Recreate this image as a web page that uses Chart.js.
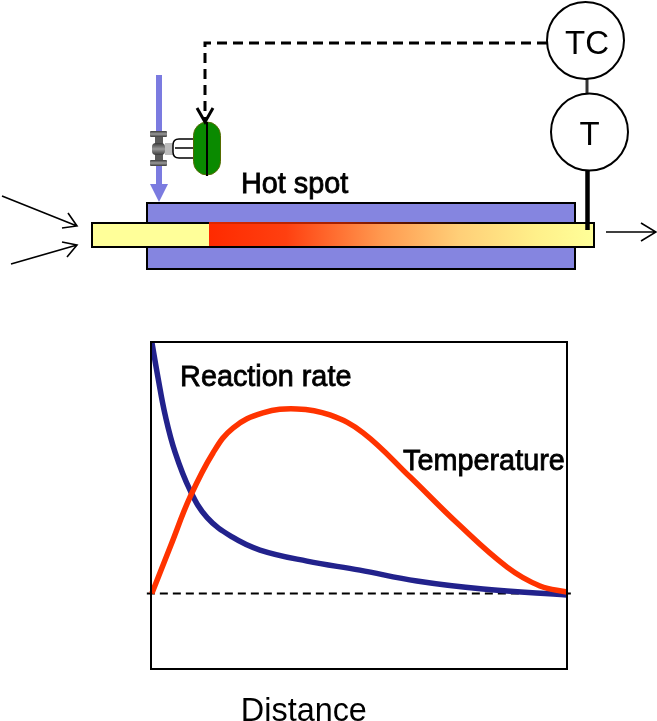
<!DOCTYPE html>
<html>
<head>
<meta charset="utf-8">
<title>Hot spot</title>
<script src="https://cdn.jsdelivr.net/npm/chart.js@4"></script>
<style>
  html, body { margin: 0; padding: 0; background: #fff; }
  #wrap { position: relative; width: 657px; height: 721px; overflow: hidden; }
  #plot, #scheme { position: absolute; left: 0; top: 0; }
  #scheme text { font-family: 'Liberation Sans', Arial, sans-serif; fill: #000; }
</style>
</head>
<body>
<div id="wrap">
  <canvas id="plot" width="657" height="721"></canvas>

  <!-- reactor schematic, not data -->
  <svg id="scheme" width="657" height="340" viewBox="0 0 657 340" xmlns="http://www.w3.org/2000/svg">
    <defs>
      <linearGradient id="hot" x1="0" x2="1" y1="0" y2="0">
        <stop offset="0" stop-color="#ff2a00"/>
        <stop offset="0.2" stop-color="#ff4010"/>
        <stop offset="0.45" stop-color="#ff9a50"/>
        <stop offset="0.65" stop-color="#ffcf78"/>
        <stop offset="0.85" stop-color="#fff08a"/>
        <stop offset="1" stop-color="#ffff99"/>
      </linearGradient>
      <linearGradient id="edge" gradientUnits="userSpaceOnUse" x1="209" x2="480" y1="0" y2="0">
        <stop offset="0" stop-color="#e02800"/>
        <stop offset="0.5" stop-color="#a02000"/>
        <stop offset="1" stop-color="#000"/>
      </linearGradient>
      <linearGradient id="steel" x1="0" x2="0" y1="0" y2="1">
        <stop offset="0" stop-color="#3a3a3a"/>
        <stop offset="0.5" stop-color="#9a9a9a"/>
        <stop offset="1" stop-color="#3a3a3a"/>
      </linearGradient>
    </defs>

    <!-- jacket and tube -->
    <rect x="147" y="203" width="428" height="66" fill="#8585e0" stroke="#000" stroke-width="2"/>
    <rect x="92" y="223" width="502" height="24" fill="#ffff99"/>
    <rect x="209" y="223" width="385" height="24" fill="url(#hot)"/>
    <rect x="92" y="223" width="502" height="24" fill="none" stroke="#000" stroke-width="2"/>
    <line x1="209" x2="480" y1="223" y2="223" stroke="url(#edge)" stroke-width="2"/>

    <!-- feed and outlet arrows -->
    <g fill="none" stroke="#000" stroke-width="1.6">
      <path d="M2 196 L77 226 M68 213 L77 226 L62 228"/>
      <path d="M11 264 L77 245 M62 242 L77 245 L67 257"/>
      <path d="M606 232 L656 232 M641 223 L656 232 L641 241"/>
    </g>

    <!-- coolant arrow -->
    <rect x="156" y="75" width="6" height="110" fill="#7b7be0"/>
    <path d="M150 184 L168 184 L159 202 Z" fill="#7b7be0"/>

    <!-- valve -->
    <rect x="165" y="143" width="8" height="12" fill="#bdbdbd"/>
    <rect x="155" y="136" width="8" height="24" fill="#5a5a5a"/>
    <rect x="150" y="131" width="17" height="6" rx="1" fill="url(#steel)"/>
    <rect x="150" y="160" width="17" height="6" rx="1" fill="url(#steel)"/>
    <rect x="152" y="143" width="13" height="12" rx="4" fill="url(#steel)"/>
    <path d="M193 139 L179 139 Q173 139 173 145 L173 152 Q173 158 179 158 L193 158 M175 148 L193 148" fill="#fff" stroke="#000" stroke-width="1.5"/>
    <rect x="193.5" y="122" width="27" height="53" rx="13.5" fill="#0a8a00" stroke="#556b00" stroke-width="1"/>
    <line x1="207" x2="207" y1="122" y2="176" stroke="#000" stroke-width="2"/>

    <!-- control signal -->
    <path d="M547 43 L205 43 L205 120" fill="none" stroke="#000" stroke-width="3" stroke-dasharray="10 6"/>
    <path d="M197 108 L205 122 L213 108" fill="none" stroke="#000" stroke-width="3"/>

    <!-- controller and thermocouple -->
    <line x1="587" x2="587" y1="79" y2="95" stroke="#333" stroke-width="3"/>
    <line x1="587.5" x2="587.5" y1="170" y2="230" stroke="#000" stroke-width="4.5"/>
    <circle cx="585.5" cy="40.5" r="38.5" fill="#fff" stroke="#000" stroke-width="2"/>
    <circle cx="589.5" cy="132" r="38.5" fill="#fff" stroke="#000" stroke-width="2"/>
    <text x="587" y="54" font-size="33" text-anchor="middle">TC</text>
    <text x="589.5" y="145" font-size="33" text-anchor="middle">T</text>

    <text x="241" y="193" font-size="28.8" stroke="#000" stroke-width="0.8">Hot spot</text>
  </svg>
</div>

<script>
// ─── Curve values ─────────────────────────────────────────
const tempX = [0.2, 4.8, 9.4, 14.9, 19.7, 26.9, 35.1, 43, 51, 62.3, 73.6, 85.6, 93.5, 100];
const tempY = [0, 19.3, 38.4, 55.9, 65.8, 71.8, 73.4, 71, 63.9, 46.3, 28, 10.5, 3, 0.6];

const rateX = [0.2, 1.7, 3.4, 5.8, 9.4, 13.5, 19.5, 26.2, 37.5, 50.2, 63.9, 79.8, 100];
const rateY = [100, 85.7, 71, 56.1, 41, 30.2, 22.5, 17.3, 12.9, 9.3, 5, 1.8, -0.6];

const baseX = [-1, 101.5];
const baseY = [0, 0];

const FONT = "'Liberation Sans', Arial, sans-serif";
const pts = (xs, ys) => xs.map((x, i) => ({ x, y: ys[i] }));

// Frame and in-plot labels
const frameAndLabels = {
  id: 'frameAndLabels',
  afterDatasetsDraw(chart) {
    const { ctx, chartArea: a, scales: { x, y } } = chart;
    ctx.save();
    ctx.strokeStyle = '#000';
    ctx.lineWidth = 2;
    ctx.strokeRect(a.left, a.top, a.width, a.height);

    ctx.fillStyle = '#000';
    ctx.textBaseline = 'alphabetic';
    ctx.lineWidth = 0.8;
    ctx.font = `28.8px ${FONT}`;
    ctx.fillText('Reaction rate', x.getPixelForValue(7), y.getPixelForValue(82.5));
    ctx.strokeText('Reaction rate', x.getPixelForValue(7), y.getPixelForValue(82.5));
    ctx.fillText('Temperature', x.getPixelForValue(60.6), y.getPixelForValue(49.1));
    ctx.strokeText('Temperature', x.getPixelForValue(60.6), y.getPixelForValue(49.1));
    ctx.font = `32.4px ${FONT}`;
    ctx.fillText('Distance', x.getPixelForValue(21.6), y.getPixelForValue(-50.6));
    ctx.restore();
  },
};

new Chart(document.getElementById('plot'), {
  type: 'line',
  data: {
    datasets: [
      { label: 'Temperature', data: pts(tempX, tempY), borderColor: '#ff3300', borderWidth: 5.5, tension: 0.4, clip: false },
      { label: 'Reaction rate', data: pts(rateX, rateY), borderColor: '#22228c', borderWidth: 5.5, tension: 0.4 },
      { label: 'Baseline', data: pts(baseX, baseY), borderColor: '#000', borderWidth: 2, borderDash: [8, 5], clip: false },
    ],
  },
  options: {
    responsive: false,
    animation: false,
    layout: { padding: { left: 151, right: 90, top: 342, bottom: 52 } },
    elements: { point: { radius: 0 } },
    plugins: { legend: { display: false }, tooltip: { enabled: false } },
    scales: {
      x: { type: 'linear', min: 0, max: 100, display: false },
      y: { type: 'linear', min: -30, max: 100, display: false },
    },
  },
  plugins: [frameAndLabels],
});
</script>
</body>
</html>
